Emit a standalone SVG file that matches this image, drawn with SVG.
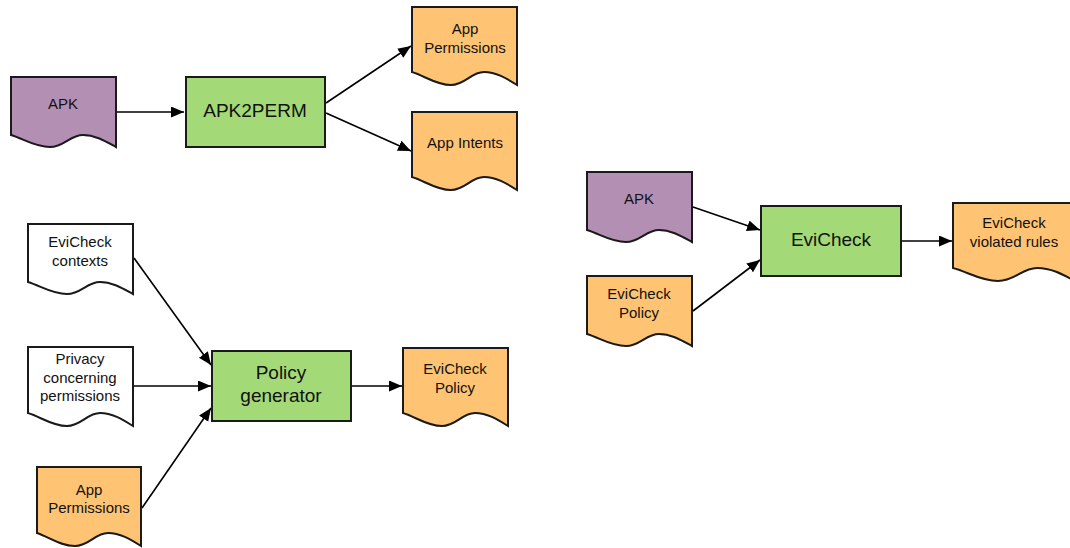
<svg xmlns="http://www.w3.org/2000/svg" width="1070" height="548" viewBox="0 0 1070 548">
  <style>
    .doc, .proc { stroke: #1a1a1a; stroke-width: 2; stroke-linejoin: miter; }
    .apk { fill: #b38fb3; }
    .out { fill: #ffc374; }
    .plain { fill: #ffffff; }
    .proc { fill: #a4d978; }
    .lbl { font-family: "Liberation Sans", Arial, sans-serif; font-size: 15px; fill: #111; text-anchor: middle; }
    .big { font-family: "Liberation Sans", Arial, sans-serif; font-size: 19px; fill: #111; text-anchor: middle; }
    .edge { fill: none; stroke: #000; stroke-width: 1.6; }
  </style>
  <defs>
    <marker id="arrow" markerUnits="userSpaceOnUse" markerWidth="14" markerHeight="12" refX="13" refY="5.5" orient="auto">
      <path d="M0,0 L13,5.5 L0,11 Z" fill="#000"/>
    </marker>
  </defs>

  <!-- connectors -->
  <g id="connectors">
    <line class="edge" x1="116" y1="112" x2="184" y2="112" marker-end="url(#arrow)"/>
    <line class="edge" x1="326" y1="103" x2="411" y2="46" marker-end="url(#arrow)"/>
    <line class="edge" x1="326" y1="113" x2="411" y2="151" marker-end="url(#arrow)"/>
    <line class="edge" x1="134" y1="258" x2="211" y2="365" marker-end="url(#arrow)"/>
    <line class="edge" x1="134" y1="386" x2="211" y2="386" marker-end="url(#arrow)"/>
    <line class="edge" x1="142" y1="508" x2="211" y2="408" marker-end="url(#arrow)"/>
    <line class="edge" x1="352" y1="386" x2="402" y2="386" marker-end="url(#arrow)"/>
    <line class="edge" x1="693" y1="207" x2="760" y2="230" marker-end="url(#arrow)"/>
    <line class="edge" x1="693" y1="311" x2="760" y2="260" marker-end="url(#arrow)"/>
    <line class="edge" x1="902" y1="241" x2="952" y2="241" marker-end="url(#arrow)"/>
  </g>

  <!-- APK (top) -->
  <g id="apk-top">
    <path class="doc apk" d="M11,77 H116 V147 C105,141 95,135 83,135 C70,135 64,147 50,147 C35,147 24,139 11,135 Z"/>
    <text class="lbl" x="63" y="109">APK</text>
  </g>

  <!-- APK2PERM -->
  <g id="apk2perm">
    <rect class="proc" x="186" y="77" width="139" height="70"/>
    <text class="big" x="255" y="117">APK2PERM</text>
  </g>

  <!-- App Permissions (top) -->
  <g id="app-permissions-top">
    <path class="doc out" d="M412,7 H517 V85 C506,78 496,72 484,72 C471,72 465,85 451,85 C436,85 425,76 412,72 Z"/>
    <text class="lbl" x="465" y="34">App</text>
    <text class="lbl" x="465" y="53">Permissions</text>
  </g>

  <!-- App Intents -->
  <g id="app-intents">
    <path class="doc out" d="M412,112 H517 V190 C506,183 496,177 484,177 C471,177 465,190 451,190 C436,190 425,181 412,177 Z"/>
    <text class="lbl" x="465" y="148">App Intents</text>
  </g>

  <!-- EviCheck contexts -->
  <g id="evicheck-contexts">
    <path class="doc plain" d="M28,224 H133 V294 C122,288 112,282 100,282 C87,282 81,294 67,294 C52,294 41,286 28,282 Z"/>
    <text class="lbl" x="80" y="247">EviCheck</text>
    <text class="lbl" x="80" y="266">contexts</text>
  </g>

  <!-- Privacy concerning permissions -->
  <g id="privacy-permissions">
    <path class="doc plain" d="M28,347 H133 V426 C122,419 112,413 100,413 C87,413 81,426 67,426 C52,426 41,417 28,413 Z"/>
    <text class="lbl" x="80" y="364">Privacy</text>
    <text class="lbl" x="80" y="383">concerning</text>
    <text class="lbl" x="80" y="401">permissions</text>
  </g>

  <!-- App Permissions (bottom) -->
  <g id="app-permissions-bottom">
    <path class="doc out" d="M37,467 H141 V546 C130,539 120,533 108,533 C95,533 89,546 75,546 C60,546 49,537 37,533 Z"/>
    <text class="lbl" x="89" y="495">App</text>
    <text class="lbl" x="89" y="513">Permissions</text>
  </g>

  <!-- Policy generator -->
  <g id="policy-generator">
    <rect class="proc" x="212" y="351" width="139" height="70"/>
    <text class="big" x="281" y="379">Policy</text>
    <text class="big" x="281" y="402">generator</text>
  </g>

  <!-- EviCheck Policy (output) -->
  <g id="evicheck-policy-out">
    <path class="doc out" d="M403,348 H508 V426 C497,419 487,413 475,413 C462,413 456,426 442,426 C427,426 416,417 403,413 Z"/>
    <text class="lbl" x="455" y="374">EviCheck</text>
    <text class="lbl" x="455" y="393">Policy</text>
  </g>

  <!-- APK (right) -->
  <g id="apk-right">
    <path class="doc apk" d="M587,172 H692 V242 C681,236 671,230 659,230 C646,230 640,242 626,242 C611,242 600,234 587,230 Z"/>
    <text class="lbl" x="639" y="204">APK</text>
  </g>

  <!-- EviCheck Policy (input) -->
  <g id="evicheck-policy-in">
    <path class="doc out" d="M587,276 H692 V346 C681,340 671,334 659,334 C646,334 640,346 626,346 C611,346 600,338 587,334 Z"/>
    <text class="lbl" x="639" y="299">EviCheck</text>
    <text class="lbl" x="639" y="318">Policy</text>
  </g>

  <!-- EviCheck -->
  <g id="evicheck">
    <rect class="proc" x="761" y="206" width="140" height="70"/>
    <text class="big" x="831" y="246">EviCheck</text>
  </g>

  <!-- EviCheck violated rules -->
  <g id="violated-rules">
    <path class="doc out" d="M953,203 H1075 V281 C1062,274 1051,268 1037,268 C1022,268 1015,281 998,281 C981,281 968,272 953,268 Z"/>
    <text class="lbl" x="1014" y="228">EviCheck</text>
    <text class="lbl" x="1014" y="247">violated rules</text>
  </g>
</svg>
